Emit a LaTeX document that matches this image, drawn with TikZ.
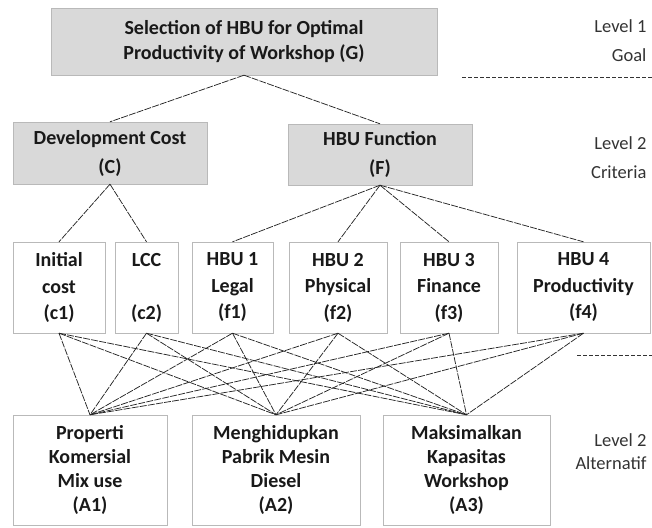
\documentclass[tikz,border=0pt]{standalone}
\usepackage{fontspec}
\setmainfont{Carlito}
\definecolor{boxgray}{RGB}{217,217,217}
\definecolor{edgegray}{RGB}{185,185,185}
\tikzset{
  critbox/.style={draw=edgegray, fill=boxgray, align=center, inner sep=0pt,
    text=black!90, font=\bfseries\fontsize{20}{29}\selectfont},
  subbox/.style={draw=edgegray, fill=white, align=center, inner sep=0pt,
    text=black!90, font=\bfseries\fontsize{20}{26.5}\selectfont, minimum height=91pt},
  altbox/.style={subbox, minimum height=110pt, font=\bfseries\fontsize{20}{24}\selectfont},
  link/.style={line width=0.75pt, black!85, dash pattern=on 7pt off 1.2pt},
  lvl/.style={align=right, anchor=east, text=black!80, font=\fontsize{18.5}{29}\selectfont},
  sepline/.style={line width=0.8pt, black!80, dash pattern=on 4pt off 2pt}
}
\begin{document}
\begin{tikzpicture}[x=1pt, y=-1pt]
  \useasboundingbox (0,0) rectangle (652,527);

  % goal and criteria
  \node[critbox, minimum width=386pt, minimum height=67pt, font=\bfseries\fontsize{20}{25}\selectfont]
    (G) at (244,41.5) {Selection of HBU for Optimal\\Productivity of Workshop (G)};
  \node[critbox, minimum width=194pt, minimum height=62pt] (C) at (110,153) {Development Cost\\(C)};
  \node[critbox, minimum width=184pt, minimum height=61pt] (F) at (380,154.5) {HBU Function\\(F)};

  % sub criteria
  \node[subbox, minimum width=92pt] (c1) at (59,287.5) {Initial\\cost\\(c1)};
  \node[subbox, minimum width=63pt] (c2) at (146.5,287.5) {LCC\\\mbox{}\\(c2)};
  \node[subbox, minimum width=81pt] (f1) at (232.5,287.5) {HBU 1\\Legal\\(f1)};
  \node[subbox, minimum width=98pt] (f2) at (338,287.5) {HBU 2\\Physical\\(f2)};
  \node[subbox, minimum width=98pt] (f3) at (449,287.5) {HBU 3\\Finance\\(f3)};
  \node[subbox, minimum width=133pt] (f4) at (583.5,287.5) {HBU 4\\Productivity\\(f4)};

  % alternatives
  \node[altbox, minimum width=154pt] (A1) at (90,470) {Properti\\Komersial\\Mix use\\(A1)};
  \node[altbox, minimum width=168pt] (A2) at (276,470) {Menghidupkan\\Pabrik Mesin\\Diesel\\(A2)};
  \node[altbox, minimum width=167pt] (A3) at (466.5,470) {Maksimalkan\\Kapasitas\\Workshop\\(A3)};

  % links
  \draw[link] (G.south) -- (C.north);
  \draw[link] (G.south) -- (F.north);
  \draw[link] (C.south) -- (c1.north);
  \draw[link] (C.south) -- (c2.north);
  \foreach \s in {f1,f2,f3,f4}
    \draw[link] (F.south) -- (\s.north);
  \foreach \s in {c1,c2,f1,f2,f3,f4}
    \foreach \t in {A1,A2,A3}
      \draw[link] (\s.south) -- (\t.north);

  % levels
  \node[lvl] (lv1) at (650,40.5) {Level 1\\Goal};
  \node[lvl] (lv2) at (650,157.5) {Level 2\\Criteria};
  \node[lvl, font=\fontsize{18.5}{23}\selectfont] (lv3) at (650,451.5) {Level 2\\Alternatif};
  \draw[sepline] (462,77) -- (652,77);
  \draw[sepline] (577,355) -- (652,355);
\end{tikzpicture}
\end{document}
